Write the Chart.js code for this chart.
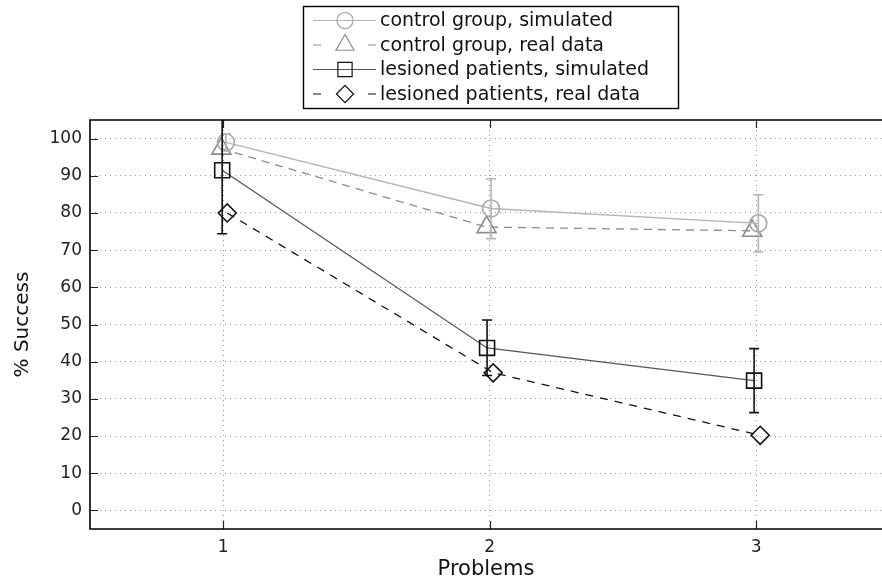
<!DOCTYPE html>
<html>
<head>
<meta charset="utf-8">
<script src="https://cdn.jsdelivr.net/npm/chart.js@4.4.1/dist/chart.umd.min.js"></script>
<style>
  html, body { margin: 0; padding: 0; background: #fff; overflow: hidden; }
  #wrap { width: 882px; height: 584px; }
</style>
</head>
<body>
<div id="wrap"><canvas id="successChart" width="882" height="584"></canvas></div>
<script>
const problems = [1, 2, 3];
const yTicks = [0, 10, 20, 30, 40, 50, 60, 70, 80, 90, 100];

const seriesLabels = [
  'control group, simulated',
  'control group, real data',
  'lesioned patients, simulated',
  'lesioned patients, real data',
];

// control group, simulated (mean + error bar bounds)
const ctrlSimX = [1.01, 2.005, 3.008];
const ctrlSimY = [99.0, 81.2, 77.2];
const ctrlSimHi = [101.3, 89.2, 84.9];
const ctrlSimLo = [96.7, 73.1, 69.5];

// control group, real data
const ctrlRealX = [0.993, 1.988, 2.985];
const ctrlRealY = [97.3, 76.2, 75.2];

// lesioned patients, simulated
const lesSimX = [0.996, 1.99, 2.992];
const lesSimY = [91.5, 43.7, 34.9];
const lesSimHi = [108.6, 51.2, 43.5];
const lesSimLo = [74.4, 36.3, 26.3];

// lesioned patients, real data
const lesRealX = [1.015, 2.013, 3.015];
const lesRealY = [80.0, 37.0, 20.2];

const FONT = 'DejaVu Sans';

const toPoints = (xs, ys) => xs.map((x, i) => ({ x: x, y: ys[i] }));

const styles = [
  { line: '#b4b4b4', mark: '#a8a8a8', dash: [], pointStyle: 'circle', radius: 8.5 },
  { line: '#8c8c8c', mark: '#8c8c8c', dash: [8, 6], pointStyle: 'triangle', radius: 11 },
  { line: '#555555', mark: '#111111', dash: [], pointStyle: 'rect', radius: 10.6 },
  { line: '#111111', mark: '#111111', dash: [8, 7], pointStyle: 'rectRot', radius: 9 },
];

const seriesData = [
  toPoints(ctrlSimX, ctrlSimY),
  toPoints(ctrlRealX, ctrlRealY),
  toPoints(lesSimX, lesSimY),
  toPoints(lesRealX, lesRealY),
];

const errorBars = [
  { x: ctrlSimX, hi: ctrlSimHi, lo: ctrlSimLo, color: '#b4b4b4', width: 1.6 },
  { x: lesSimX, hi: lesSimHi, lo: lesSimLo, color: '#111111', width: 1.6 },
];

const errorBarPlugin = {
  id: 'errorBars',
  afterDatasetsDraw(chart) {
    const { ctx, chartArea, scales } = chart;
    ctx.save();
    ctx.beginPath();
    ctx.rect(chartArea.left, chartArea.top, chartArea.right - chartArea.left, chartArea.bottom - chartArea.top);
    ctx.clip();
    errorBars.forEach(eb => {
      ctx.strokeStyle = eb.color;
      ctx.lineWidth = eb.width;
      eb.x.forEach((xv, i) => {
        const px = scales.x.getPixelForValue(xv);
        const top = scales.y.getPixelForValue(eb.hi[i]);
        const bot = scales.y.getPixelForValue(eb.lo[i]);
        ctx.beginPath();
        ctx.moveTo(px, top);
        ctx.lineTo(px, bot);
        ctx.moveTo(px - 5, top);
        ctx.lineTo(px + 5, top);
        ctx.moveTo(px - 5, bot);
        ctx.lineTo(px + 5, bot);
        ctx.stroke();
      });
    });
    ctx.restore();
  },
};

const framePlugin = {
  id: 'frame',
  afterDraw(chart) {
    const { ctx, chartArea, scales } = chart;
    const { left, top, right, bottom } = chartArea;
    ctx.save();
    // inner tick marks
    ctx.strokeStyle = '#222';
    ctx.lineWidth = 1.2;
    ctx.beginPath();
    yTicks.forEach(v => {
      const py = Math.round(scales.y.getPixelForValue(v)) + 0.5;
      ctx.moveTo(left, py);
      ctx.lineTo(left + 8, py);
    });
    problems.forEach(v => {
      const px = Math.round(scales.x.getPixelForValue(v)) + 0.5;
      ctx.moveTo(px, bottom);
      ctx.lineTo(px, bottom - 8);
      ctx.moveTo(px, top);
      ctx.lineTo(px, top + 8);
    });
    ctx.stroke();
    // box (right side lies beyond the picture)
    ctx.strokeStyle = '#000';
    ctx.lineWidth = 1.6;
    ctx.beginPath();
    ctx.moveTo(right + 10, top);
    ctx.lineTo(left, top);
    ctx.lineTo(left, bottom);
    ctx.lineTo(right + 10, bottom);
    ctx.stroke();

    // legend box
    const bx = 303, by = 6, bw = 375, bh = 102;
    ctx.fillStyle = '#fff';
    ctx.fillRect(bx, by, bw, bh);
    ctx.strokeStyle = '#000';
    ctx.lineWidth = 1.4;
    ctx.strokeRect(bx + 0.5, by + 0.5, bw, bh);
    const rows = [20.5, 45, 69.5, 94];
    ctx.font = '19px "' + FONT + '"';
    ctx.textBaseline = 'middle';
    ctx.textAlign = 'left';
    seriesLabels.forEach((label, i) => {
      const st = styles[i];
      const y = rows[i];
      ctx.strokeStyle = st.line;
      ctx.lineWidth = 1.2;
      ctx.beginPath();
      if (st.dash.length) {
        ctx.moveTo(313, y); ctx.lineTo(321, y);
        ctx.moveTo(368, y); ctx.lineTo(376, y);
      } else {
        ctx.moveTo(313, y); ctx.lineTo(376, y);
      }
      ctx.stroke();
      ctx.strokeStyle = st.mark;
      ctx.fillStyle = 'rgba(0,0,0,0)';
      Chart.helpers.drawPoint(ctx, {
        pointStyle: st.pointStyle,
        radius: st.radius * 0.95,
        borderWidth: 1.5,
        rotation: 0,
      }, 345, y);
      ctx.fillStyle = '#111';
      ctx.fillText(label, 380, y + 1);
    });
    ctx.restore();
  },
};

new Chart(document.getElementById('successChart'), {
  type: 'line',
  data: {
    datasets: seriesData.map((pts, i) => ({
      label: seriesLabels[i],
      data: pts,
      borderColor: styles[i].line,
      borderWidth: 1.3,
      borderDash: styles[i].dash,
      pointStyle: styles[i].pointStyle,
      pointRadius: styles[i].radius,
      pointBorderWidth: 1.6,
      pointBorderColor: styles[i].mark,
      pointBackgroundColor: 'rgba(0,0,0,0)',
      fill: false,
      tension: 0,
    })),
  },
  options: {
    responsive: false,
    animation: false,
    devicePixelRatio: 1,
    layout: { autoPadding: false, padding: { top: 120, right: 0, left: 0, bottom: 0 } },
    plugins: {
      legend: { display: false },
      tooltip: { enabled: false },
    },
    scales: {
      x: {
        type: 'linear',
        min: 0.5,
        max: 3.472,
        afterBuildTicks: scale => {
          scale.ticks = problems.map(v => ({ value: v }));
        },
        afterFit: scale => {
          scale.height = 55;
          scale.paddingLeft = 0;
          scale.paddingRight = 0;
        },
        grid: { color: '#9a9a9a', lineWidth: 1, drawTicks: false },
        border: { display: false, dash: [1, 4] },
        ticks: {
          padding: 8,
          color: '#222',
          font: { family: FONT, size: 17 },
          callback: v => String(v),
        },
        title: {
          display: true,
          text: 'Problems',
          color: '#111',
          font: { family: FONT, size: 21 },
          padding: { top: 0, bottom: 2 },
        },
      },
      y: {
        type: 'linear',
        min: -5,
        max: 105,
        afterBuildTicks: scale => {
          scale.ticks = yTicks.map(v => ({ value: v }));
        },
        afterFit: scale => {
          scale.width = 90;
        },
        grid: { color: '#9a9a9a', lineWidth: 1, drawTicks: false },
        border: { display: false, dash: [1, 4] },
        ticks: {
          padding: 8,
          color: '#222',
          font: { family: FONT, size: 17 },
          callback: v => String(v),
        },
        title: {
          display: true,
          text: '% Success',
          color: '#111',
          font: { family: FONT, size: 20 },
          padding: { top: 11, bottom: 0 },
        },
      },
    },
  },
  plugins: [errorBarPlugin, framePlugin],
});
</script>
</body>
</html>
